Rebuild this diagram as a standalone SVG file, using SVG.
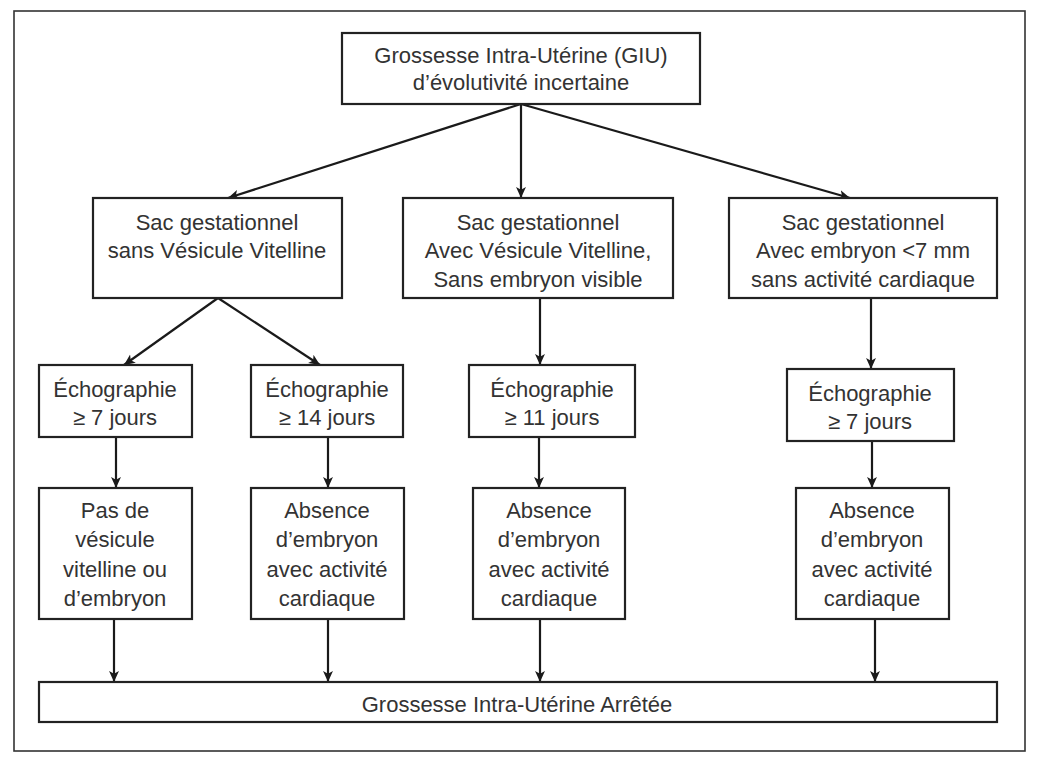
<svg xmlns="http://www.w3.org/2000/svg" width="1037" height="758" viewBox="0 0 1037 758">
<style>
  .box { fill: #ffffff; stroke: #222222; stroke-width: 2.2; }
  .frame { fill: #ffffff; stroke: #333333; stroke-width: 1.6; }
  .lbl { font-family: "Liberation Sans", Arial, sans-serif; font-size: 22px; fill: #333333; text-anchor: middle; }
  .edge { stroke: #1a1a1a; stroke-width: 2.2; fill: none; marker-end: url(#arr); }
</style>
<defs>
  <marker id="arr" viewBox="0 0 10 10" refX="10" refY="5" markerWidth="11" markerHeight="11" markerUnits="userSpaceOnUse" orient="auto">
    <path d="M0,0.5 L10,5 L0,9.5 L2.5,5 z" fill="#1a1a1a"/>
  </marker>
</defs>
<rect width="1037" height="758" fill="#ffffff"/>
<rect class="frame" x="14" y="11" width="1011" height="740"/>

<g id="connectors">
  <line class="edge" x1="521" y1="104" x2="228" y2="198"/>
  <line class="edge" x1="521" y1="104" x2="521" y2="198"/>
  <line class="edge" x1="521" y1="104" x2="850" y2="198"/>
  <line class="edge" x1="218" y1="298" x2="124" y2="365"/>
  <line class="edge" x1="218" y1="298" x2="320" y2="365"/>
  <line class="edge" x1="540" y1="298" x2="540" y2="365"/>
  <line class="edge" x1="871" y1="298" x2="871" y2="369"/>
  <line class="edge" x1="116" y1="437" x2="116" y2="488"/>
  <line class="edge" x1="328" y1="437" x2="328" y2="488"/>
  <line class="edge" x1="539" y1="437" x2="539" y2="488"/>
  <line class="edge" x1="872" y1="441" x2="872" y2="488"/>
  <line class="edge" x1="114" y1="619" x2="114" y2="682"/>
  <line class="edge" x1="328" y1="619" x2="328" y2="682"/>
  <line class="edge" x1="540" y1="619" x2="540" y2="682"/>
  <line class="edge" x1="875" y1="619" x2="875" y2="682"/>
</g>

<g id="n-top">
  <rect class="box" x="342" y="33" width="358" height="71"/>
  <text class="lbl" x="521" y="63">Grossesse Intra-Utérine (GIU)</text>
  <text class="lbl" x="521" y="90">d’évolutivité incertaine</text>
</g>

<g id="n-sac1">
  <rect class="box" x="93" y="198" width="249" height="100"/>
  <text class="lbl" x="217" y="230">Sac gestationnel</text>
  <text class="lbl" x="217" y="258">sans Vésicule Vitelline</text>
</g>

<g id="n-sac2">
  <rect class="box" x="403" y="198" width="270" height="100"/>
  <text class="lbl" x="538" y="230">Sac gestationnel</text>
  <text class="lbl" x="538" y="258">Avec Vésicule Vitelline,</text>
  <text class="lbl" x="538" y="287">Sans embryon visible</text>
</g>

<g id="n-sac3">
  <rect class="box" x="729" y="198" width="268" height="100"/>
  <text class="lbl" x="863" y="230">Sac gestationnel</text>
  <text class="lbl" x="863" y="258">Avec embryon &lt;7 mm</text>
  <text class="lbl" x="863" y="287">sans activité cardiaque</text>
</g>

<g id="n-echo1">
  <rect class="box" x="39" y="365" width="153" height="72"/>
  <text class="lbl" x="115" y="397">Échographie</text>
  <text class="lbl" x="115" y="425">≥ 7 jours</text>
</g>

<g id="n-echo2">
  <rect class="box" x="251" y="365" width="152" height="72"/>
  <text class="lbl" x="327" y="397">Échographie</text>
  <text class="lbl" x="327" y="425">≥ 14 jours</text>
</g>

<g id="n-echo3">
  <rect class="box" x="469" y="365" width="166" height="72"/>
  <text class="lbl" x="552" y="397">Échographie</text>
  <text class="lbl" x="552" y="425">≥ 11 jours</text>
</g>

<g id="n-echo4">
  <rect class="box" x="787" y="369" width="167" height="72"/>
  <text class="lbl" x="870" y="401">Échographie</text>
  <text class="lbl" x="870" y="429">≥ 7 jours</text>
</g>

<g id="n-res1">
  <rect class="box" x="39" y="488" width="153" height="131"/>
  <text class="lbl" x="115" y="518">Pas de</text>
  <text class="lbl" x="115" y="547">vésicule</text>
  <text class="lbl" x="115" y="577">vitelline ou</text>
  <text class="lbl" x="115" y="606">d’embryon</text>
</g>

<g id="n-res2">
  <rect class="box" x="251" y="488" width="153" height="131"/>
  <text class="lbl" x="327" y="518">Absence</text>
  <text class="lbl" x="327" y="547">d’embryon</text>
  <text class="lbl" x="327" y="577">avec activité</text>
  <text class="lbl" x="327" y="606">cardiaque</text>
</g>

<g id="n-res3">
  <rect class="box" x="473" y="488" width="152" height="131"/>
  <text class="lbl" x="549" y="518">Absence</text>
  <text class="lbl" x="549" y="547">d’embryon</text>
  <text class="lbl" x="549" y="577">avec activité</text>
  <text class="lbl" x="549" y="606">cardiaque</text>
</g>

<g id="n-res4">
  <rect class="box" x="796" y="488" width="153" height="131"/>
  <text class="lbl" x="872" y="518">Absence</text>
  <text class="lbl" x="872" y="547">d’embryon</text>
  <text class="lbl" x="872" y="577">avec activité</text>
  <text class="lbl" x="872" y="606">cardiaque</text>
</g>

<g id="n-final">
  <rect class="box" x="39" y="682" width="958" height="40"/>
  <text class="lbl" x="517" y="712">Grossesse Intra-Utérine Arrêtée</text>
</g>
</svg>
